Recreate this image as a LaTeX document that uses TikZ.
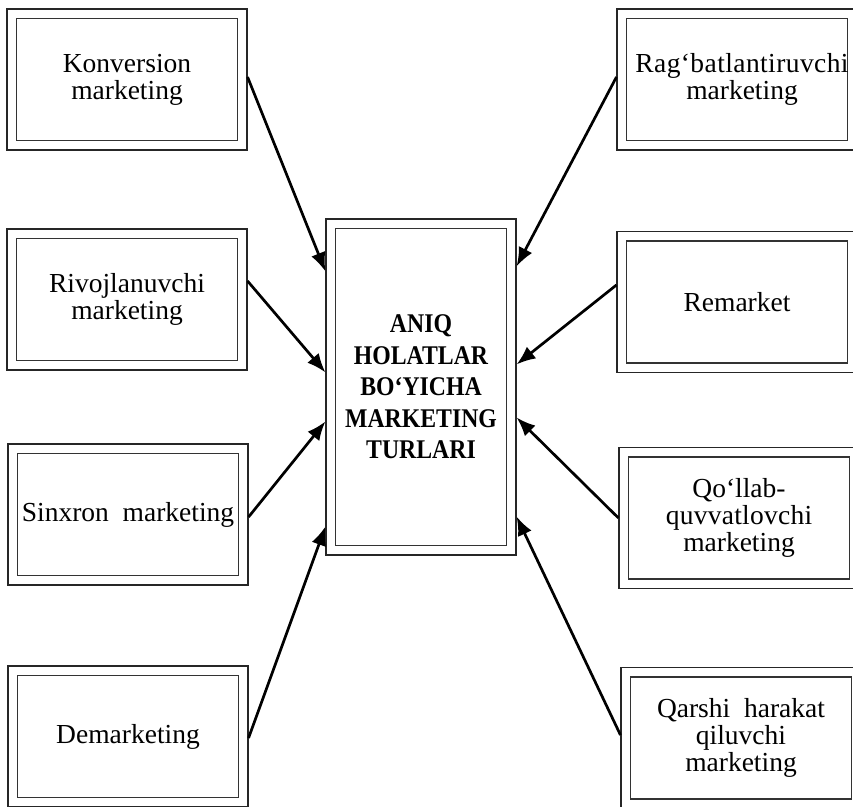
\documentclass[tikz,border=0pt]{standalone}
\usepackage{fontspec}
\setmainfont{Liberation Serif}
\newfontfamily\cbold[FakeStretch=0.88]{Liberation Serif}
\usetikzlibrary{arrows.meta}
\tikzset{
  dbox/.style={draw=black!85, line width=1.1pt, fill=white, inner sep=0pt,
    minimum width=240pt, minimum height=141pt, align=center,
    font=\fontsize{27.5pt}{27pt}\selectfont,
    path picture={\draw[black!80, line width=1.3pt]
      ([shift={(9.5pt,-9.5pt)}]path picture bounding box.north west) rectangle
      ([shift={(-9.5pt,9.5pt)}]path picture bounding box.south east);}},
  cbox/.style={dbox, minimum width=190pt, minimum height=336pt,
    font=\cbold\bfseries\fontsize{27pt}{31.5pt}\selectfont},
  conn/.style={line width=2.7pt, -{Latex[length=19pt,width=15pt]}}
}
\begin{document}
\begin{tikzpicture}[x=1pt,y=-1pt]
\useasboundingbox (0,0) rectangle (853,806);
\clip (0,0) rectangle (853,806);
\fill[white] (0,0) rectangle (853,806);
% left column
\node[dbox] (L1) at (127,79.5) {Konversion\\marketing};
\node[dbox] (L2) at (127,299.5) {Rivojlanuvchi\\marketing};
\node[dbox] (L3) at (128,514.5) {Sinxron\ \ marketing};
\node[dbox] (L4) at (128,736.5) {Demarketing};
% right column
\node[dbox] (R1) at (737,79.5) {\hspace*{10pt}{\addfontfeature{LetterSpace=1.5}Rag‘batlantiruvchi}\\\hspace*{10pt}marketing};
\node[dbox] (R2) at (737,302) {Remarket};
\node[dbox] (R3) at (739,518) {Qo‘llab-\\{\addfontfeature{LetterSpace=0.9}quvvatlovchi}\\marketing};
\node[dbox] (R4) at (741,738) {Qarshi\ \ harakat\\qiluvchi\\marketing};
% centre
\node[cbox] (C) at (421,387) {ANIQ\\HOLATLAR\\BO‘YICHA\\MARKETING\\TURLARI};
% connectors
\draw[conn] ([yshift=2.5pt]L1.east) -- ([yshift=-53pt]C.north west);
\draw[conn] ([yshift=18.5pt]L2.east) -- ([yshift=-154pt]C.north west);
\draw[conn] ([yshift=-2.5pt]L3.east) -- ([yshift=-203pt]C.north west);
\draw[conn] ([yshift=-1.5pt]L4.east) -- ([yshift=-308pt]C.north west);
\draw[conn] ([yshift=2.5pt]R1.west) -- ([yshift=-48pt]C.north east);
\draw[conn] ([yshift=17pt]R2.west) -- ([yshift=-146pt]C.north east);
\draw[conn] (R3.west) -- ([yshift=-199pt]C.north east);
\draw[conn] ([yshift=3pt]R4.west) -- ([yshift=-298pt]C.north east);
\end{tikzpicture}
\end{document}
